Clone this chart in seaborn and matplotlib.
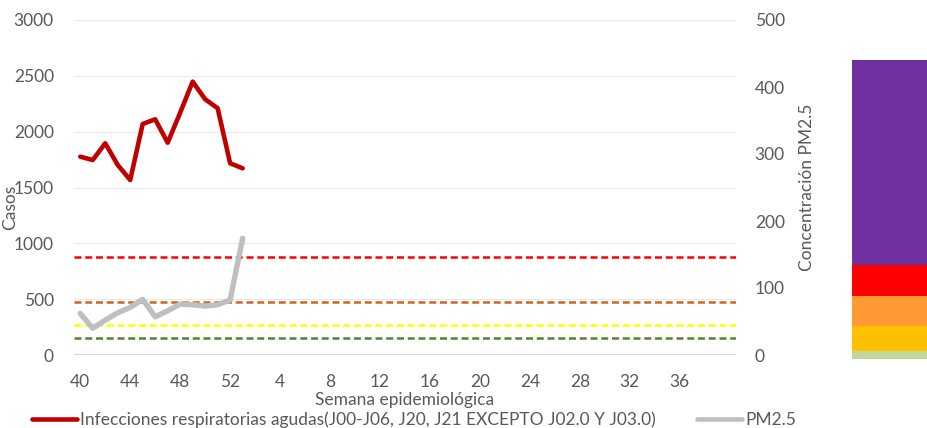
import numpy as np
import pandas as pd
import matplotlib
matplotlib.use("Agg")
import matplotlib.pyplot as plt
from matplotlib.lines import Line2D
import seaborn as sns

# ── Data ─────────────────────────────────────────────────────────────────────
semanas = list(range(40, 53)) + list(range(1, 40))
casos_ira = [1776, 1746, 1896, 1702, 1567, 2069, 2111, 1901, 2170, 2448,
             2290, 2210, 1717, 1672]
pm25 = [62, 40, 52, 63, 71, 83, 57, 66, 76, 75, 73, 75, 82, 174]

umbrales_pm25 = [25, 45, 79, 147]
umbrales_colores = ["#548235", "#FFFF00", "#D0661E", "#FF0000"]

escala_nombres = ["Buena", "Aceptable", "Mala", "Muy mala", "Extremadamente mala"]
escala_alturas = [8, 25, 30, 31, 205]
escala_colores = ["#C4D79B", "#FFC000", "#FF9933", "#FF0000", "#7030A0"]

etiqueta_ira = "Infecciones respiratorias agudas(J00-J06, J20, J21 EXCEPTO J02.0 Y J03.0)"

# ── Style ────────────────────────────────────────────────────────────────────
sns.set_theme(style="white")
plt.rcParams["font.family"] = ["Lato", "DejaVu Sans"]
gris = "#595959"

W, H = 928, 428
fig = plt.figure(figsize=(W / 100, H / 100), dpi=100)

def px_axes(x0, y0, x1, y1):
    return fig.add_axes([x0 / W, 1 - y1 / H, (x1 - x0) / W, (y1 - y0) / H])

ax = px_axes(74, 20, 736, 355)
ax2 = ax.twinx()

df_ira = pd.DataFrame({"pos": np.arange(len(casos_ira)), "casos": casos_ira})
df_pm = pd.DataFrame({"pos": np.arange(len(pm25)), "pm25": pm25})

sns.lineplot(data=df_ira, x="pos", y="casos", ax=ax, color="#C00000",
             linewidth=3.3, zorder=5)
sns.lineplot(data=df_pm, x="pos", y="pm25", ax=ax2, color="#BFBFBF",
             linewidth=3.9, zorder=4)

for val, col in zip(umbrales_pm25, umbrales_colores):
    ax2.axhline(val, color=col, linewidth=1.8, linestyle=(0, (2.8, 1.5)), zorder=3)

ax.set_ylim(0, 3000)
ax.set_yticks(range(0, 3001, 500))
ax2.set_ylim(0, 500)
ax2.set_yticks(range(0, 501, 100))
ax.set_xlim(-0.5, len(semanas) + 0.5)
tick_pos = np.arange(0, len(semanas), 4)
ax.set_xticks(tick_pos)
ax.set_xticklabels([str(semanas[i]) for i in tick_pos])

ax.grid(axis="y", color="#EBEBEB", linewidth=1.0)
ax.set_axisbelow(True)
for a in (ax, ax2):
    for s in a.spines.values():
        s.set_visible(False)
    a.tick_params(length=0, labelsize=12.5, colors=gris)
ax.axhline(0, color="#D9D9D9", linewidth=2.2, zorder=2)
ax.tick_params(axis="y", pad=14.5)
ax.tick_params(axis="x", pad=14)
ax2.tick_params(axis="y", pad=13.5)

ax.set_ylabel("")
fig.text(10 / W, 1 - 207 / H, "Casos", rotation=90, ha="center", va="center",
         fontsize=12.5, color=gris)
ax2.set_ylabel("Concentración PM2.5", fontsize=12.5, color=gris, labelpad=10)
ax.set_xlabel("Semana epidemiológica", fontsize=12.5, color=gris, va="center")
ax.xaxis.set_label_coords(0.5, -0.135)

# ── Colour scale bar ─────────────────────────────────────────────────────────
axb = px_axes(852, 60, 940, 359)
bottom = 0
for nombre, h, col in zip(escala_nombres, escala_alturas, escala_colores):
    axb.bar([0], [h], bottom=bottom, width=1.0, color=col, linewidth=0)
    bottom += h
axb.set_xlim(-0.5, 0.5)
axb.set_ylim(0, sum(escala_alturas))
axb.axis("off")

# ── Legend ───────────────────────────────────────────────────────────────────
handles = [Line2D([], [], color="#C00000", linewidth=3.3),
           Line2D([], [], color="#BFBFBF", linewidth=3.3)]
fig.legend(handles, [etiqueta_ira, "PM2.5"], loc="center",
           bbox_to_anchor=(414 / W, 1 - 420 / H), ncol=2, frameon=False,
           fontsize=12.5, labelcolor=gris, handlelength=2.6,
           handletextpad=0.15, columnspacing=2.4)

fig.savefig("out.png", dpi=100)
